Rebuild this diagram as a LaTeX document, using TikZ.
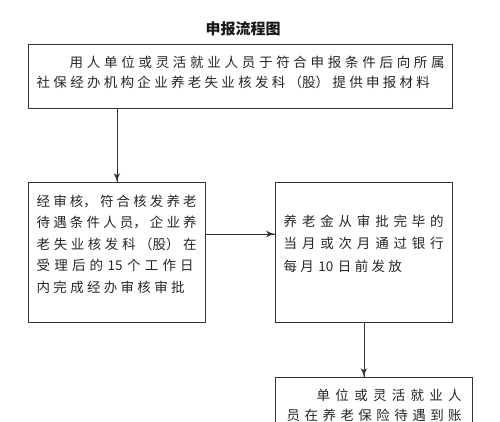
\documentclass[tikz,border=0pt]{standalone}
\usepackage{fontspec}
\usepackage{tikz}
\usetikzlibrary{arrows}
\usetikzlibrary{decorations.markings}
\usetikzlibrary{positioning}
\newfontfamily\cjk{Noto Sans CJK SC}
\XeTeXlinebreaklocale "zh"
\XeTeXlinebreakskip = 3.3pt plus 5pt minus 2pt
\setlength{\parindent}{0pt}
\newcommand{\jline}[2]{\parbox[t]{#1}{\parfillskip=0pt\relax\tolerance=9999\relax #2}}
\newcommand{\headfont}{\cjk\bfseries\fontsize{15}{18}\selectfont\XeTeXlinebreakskip=2.6pt\relax}
\tikzset{box/.style = {draw = black!80, line width = 0.8pt, rectangle, inner sep = 0pt,
                       anchor = north west},
         txt/.style = {align = left, inner sep = 0pt, text = black!85, text width = 420pt},
         flow/.style = {draw = black!80, line width = 0.8pt,
                        decoration = {markings, mark = at position 1 with {\arrow[scale=1.7]{latex'}}},
                        postaction = {decorate}}}

\begin{document}
\begin{tikzpicture}[x=1pt, y=1pt]
    \useasboundingbox (0, 0) rectangle (500, -421);
    \node [font = \headfont, text = black!90] (heading) at (243, -29) {申报流程图};

    \node [box, minimum width = 424pt, minimum height = 64pt] (apply) at (28, -44) {};
    \node [box, minimum width = 177pt, minimum height = 140pt] (review) at (28, -182) {};
    \node [box, minimum width = 177pt, minimum height = 140pt] (payout) at (275, -182) {};
    \node [box, minimum width = 197pt, minimum height = 70pt] (account) at (275, -377) {};

    \node [txt, font = \cjk\fontsize{13.5}{20}\selectfont, below right = 11.8pt and 8.5pt of apply.north west] (applytext)
        {\jline{408pt}{\hspace*{33pt}用人单位或灵活就业人员于符合申报条件后向所属}\\
         社保经办机构企业养老失业核发科（股）提供申报材料};
    \node [txt, font = \cjk\fontsize{13.5}{21.5}\selectfont, below right = 12.8pt and 8.5pt of review.north west] (reviewtext)
        {\jline{160pt}{经审核，符合核发养老}\\
         \jline{160pt}{待遇条件人员，企业养}\\
         \jline{160pt}{老失业核发科（股）在}\\
         \jline{157pt}{受理后的 15 个工作日}\\
         内完成经办审核审批};
    \node [txt, font = \cjk\fontsize{13.5}{22.5}\selectfont, below right = 32.8pt and 8.5pt of payout.north west] (payouttext)
        {\jline{160pt}{养老金从审批完毕的}\\
         \jline{160pt}{当月或次月通过银行}\\
         每月 10 日前发放};
    \node [txt, font = \cjk\fontsize{13.5}{20}\selectfont, below right = 11.8pt and 11.5pt of account.north west] (accounttext)
        {\jline{175pt}{\hspace*{30pt}单位或灵活就业人}\\
         \jline{175pt}{员在养老保险待遇到账}};

    \draw [flow] (review.north |- apply.south) -- (review.north);
    \draw [flow] ([yshift = -52pt] review.north east) -- ([yshift = -52pt] payout.north west);
    \draw [flow] (payout.south) -- (payout.south |- account.north);
\end{tikzpicture}
\end{document}
